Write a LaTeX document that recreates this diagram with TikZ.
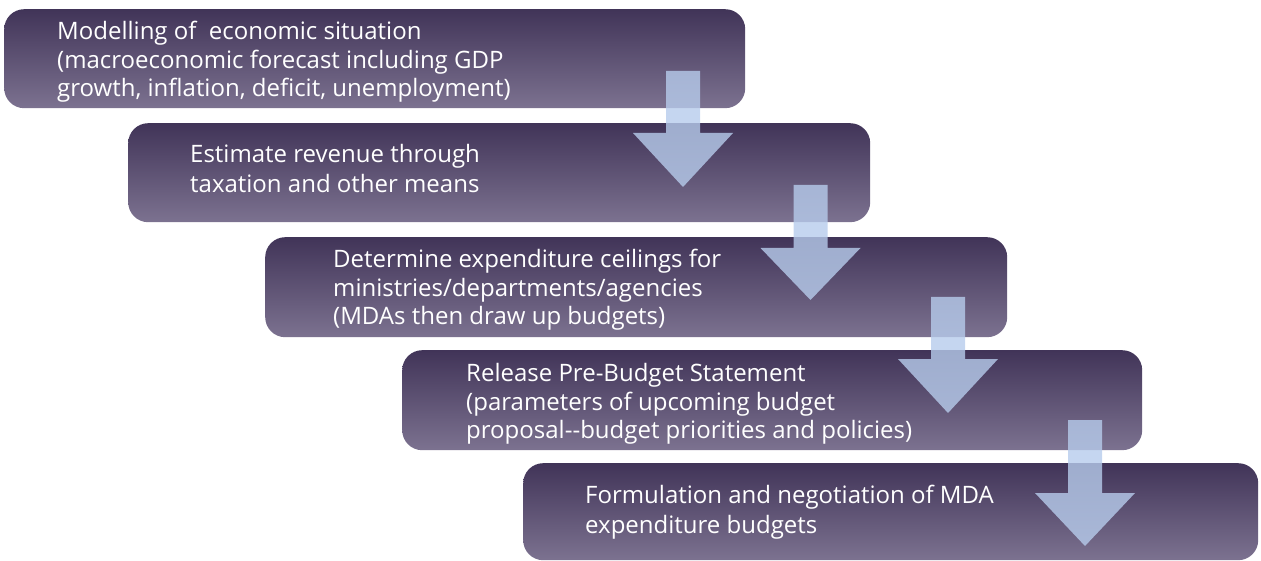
\documentclass[tikz,border=0pt]{standalone}
\usepackage{fontspec}
\setmainfont{Open Sans}
\definecolor{boxtop}{RGB}{65,52,88}
\definecolor{boxbot}{RGB}{124,114,144}
\definecolor{arrowc}{RGB}{183,204,236}
\tikzset{
  stepbox/.style={rounded corners=20pt, top color=boxtop, middle color=boxtop,
    bottom color=boxbot, draw=none, inner sep=0pt, anchor=north west},
  txt/.style={text=white, font=\fontsize{24}{29}\selectfont, inner sep=0pt, anchor=base west},
  blockarrow/.style={fill=arrowc, fill opacity=0.8, draw=none}
}
\newcommand\blockarr[4]{% cx, top, headtop, tip
  \fill[blockarrow] (#1-17,#2) -- (#1+17,#2) -- (#1+17,#3) -- (#1+50,#3)
    -- (#1,#4) -- (#1-50,#3) -- (#1-17,#3) -- cycle;}
\begin{document}
\begin{tikzpicture}[x=1pt,y=-1pt]
\useasboundingbox (0,0) rectangle (1261,561);
% boxes
\node[stepbox, minimum width=741pt, minimum height=99pt] (b1) at (4,9) {};
\node[stepbox, minimum width=742pt, minimum height=99pt] (b2) at (128,123) {};
\node[stepbox, minimum width=742pt, minimum height=100pt] (b3) at (265,237) {};
\node[stepbox, minimum width=740pt, minimum height=100pt] (b4) at (402,350) {};
\node[stepbox, minimum width=735pt, minimum height=97pt] (b5) at (523,463) {};
% texts
\node[txt] (b1t1) at (57,40) {Modelling of\ \ economic situation};
\node[txt] (b1t2) at (57,69) {(macroeconomic forecast including GDP};
\node[txt] (b1t3) at (57,97) {growth, inflation, deficit, unemployment)};
\node[txt] (b2t1) at (190,163) {Estimate revenue through};
\node[txt] (b2t2) at (190,193) {taxation and other means};
\node[txt] (b3t1) at (333,268) {Determine expenditure ceilings for};
\node[txt] (b3t2) at (333,297) {ministries/departments/agencies};
\node[txt] (b3t3) at (333,325) {(MDAs then draw up budgets)};
\node[txt] (b4t1) at (466,381) {Release Pre-Budget Statement};
\node[txt] (b4t2) at (466,410) {(parameters of upcoming budget};
\node[txt] (b4t3) at (466,438) {proposal-{}-budget priorities and policies)};
\node[txt] (b5t1) at (585,503) {Formulation and negotiation of MDA};
\node[txt] (b5t2) at (585,533) {expenditure budgets};
% arrows
\blockarr{683}{71}{133}{187}
\blockarr{810.5}{185}{248}{300}
\blockarr{948}{297}{359}{413}
\blockarr{1085}{420}{493}{546}
\end{tikzpicture}
\end{document}
